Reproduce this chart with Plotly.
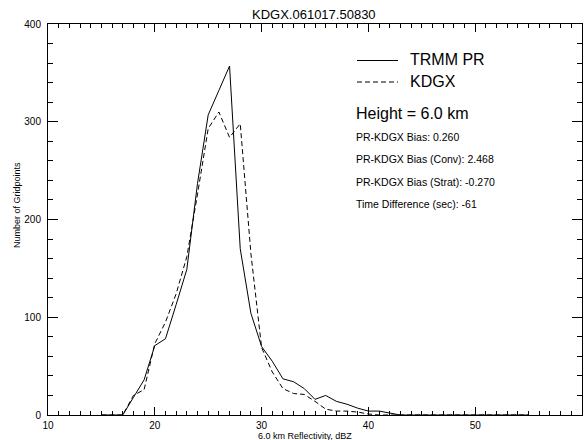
import plotly.graph_objects as go

# ---- data ----
bins = list(range(15, 56))
trmm_pr = [0, 0, 0, 18, 36, 71, 78, 113, 149, 237, 307, 332, 357, 170, 104, 70, 55, 37, 34, 27,
           16, 20, 14, 11, 7, 4, 4, 2] + [0] * 13
kdgx = [0, 0, 0, 20, 26, 73, 95, 124, 162, 226, 293, 310, 284, 298, 165, 69, 44, 27, 22, 21,
        14, 6, 4, 4, 3, 1] + [0] * 15

title_text = "KDGX.061017.50830"
x_title = "6.0 km Reflectivity, dBZ"
y_title = "Number of Gridpoints"
series_names = ["TRMM PR", "KDGX"]
height_text = "Height = 6.0 km"
info_lines = ["PR-KDGX Bias: 0.260", "PR-KDGX Bias (Conv): 2.468",
              "PR-KDGX Bias (Strat): -0.270", "Time Difference (sec): -61"]

# ---- geometry (pixels) ----
W, H = 585, 440
L, R, T, B = 48, 3, 24, 25
PW, PH = W - L - R, H - T - B


def px(xp):
    return (xp - L) / PW


def py(yp):
    return (H - B - yp) / PH


FONT = "Liberation Sans, Arial, Helvetica, sans-serif"
XR, YR = [10, 60], [0, 400]

fig = go.Figure()
fig.add_trace(go.Scatter(x=bins, y=trmm_pr, mode="lines", name=series_names[0],
                         line=dict(color="black", width=1), showlegend=False))
fig.add_trace(go.Scatter(x=bins, y=kdgx, mode="lines", name=series_names[1],
                         line=dict(color="black", width=1, dash="5px,3px"), showlegend=False))
# empty trace so that the mirrored (top/right) axes are drawn
fig.add_trace(go.Scatter(x=[], y=[], xaxis="x2", yaxis="y2", mode="lines",
                         showlegend=False, hoverinfo="skip"))

axis_common = dict(showline=True, linecolor="black", linewidth=1,
                   ticks="inside", tickcolor="black", tickwidth=1, showgrid=False,
                   zeroline=False, tickfont=dict(family=FONT, size=10, color="black"))
xminor = dict(dtick=1, ticklen=4, ticks="inside", tickcolor="black", showgrid=False)
yminor = dict(dtick=20, ticklen=5, ticks="inside", tickcolor="black", showgrid=False)

layout_axes = dict(
    xaxis=dict(range=XR, tick0=10, dtick=10, ticklen=8, minor=xminor,
               ticklabelstandoff=1, **axis_common),
    yaxis=dict(range=YR, tick0=0, dtick=100, ticklen=10, minor=yminor,
               ticklabelstandoff=4, **axis_common),
    xaxis2=dict(range=XR, tick0=10, dtick=10, ticklen=8, minor=xminor, side="top",
                overlaying="x", anchor="y2", showticklabels=False, **axis_common),
    yaxis2=dict(range=YR, tick0=0, dtick=100, ticklen=10, minor=yminor, side="right",
                overlaying="y", anchor="x2", showticklabels=False, **axis_common),
)

annotations = [
    dict(text=title_text, x=px(314), y=py(14), xanchor="center", yanchor="middle",
         font=dict(size=13)),
    dict(text=x_title, x=px(305), y=py(435.5), xanchor="center", yanchor="middle",
         font=dict(size=9)),
    dict(text=y_title, x=px(17), y=py(205), xanchor="center", yanchor="middle",
         textangle=-90, font=dict(size=9)),
    dict(text=series_names[0], x=px(409), y=py(59.5), xanchor="left", yanchor="middle",
         font=dict(size=16)),
    dict(text=series_names[1], x=px(409), y=py(81.5), xanchor="left", yanchor="middle",
         font=dict(size=16)),
    dict(text=height_text, x=px(355), y=py(114), xanchor="left", yanchor="middle",
         font=dict(size=16)),
]
for i, t in enumerate(info_lines):
    annotations.append(dict(text=t, x=px(355), y=py(137 + 22.3 * i), xanchor="left",
                            yanchor="middle", font=dict(size=10.5)))
for a in annotations:
    a.update(xref="paper", yref="paper", showarrow=False)
    a["font"].update(family=FONT, color="black")
    a["borderpad"] = 0

shapes = [
    dict(type="line", xref="paper", yref="paper", x0=px(357), x1=px(398), y0=py(60.5), y1=py(60.5),
         line=dict(color="black", width=1)),
    dict(type="line", xref="paper", yref="paper", x0=px(357), x1=px(398), y0=py(82), y1=py(82),
         line=dict(color="black", width=1, dash="5px,3px")),
]

fig.update_layout(width=W, height=H, margin=dict(l=L, r=R, t=T, b=B, pad=0),
                  paper_bgcolor="white", plot_bgcolor="white",
                  font=dict(family=FONT, color="black"),
                  annotations=annotations, shapes=shapes, showlegend=False, **layout_axes)

fig.write_html("out.html")
